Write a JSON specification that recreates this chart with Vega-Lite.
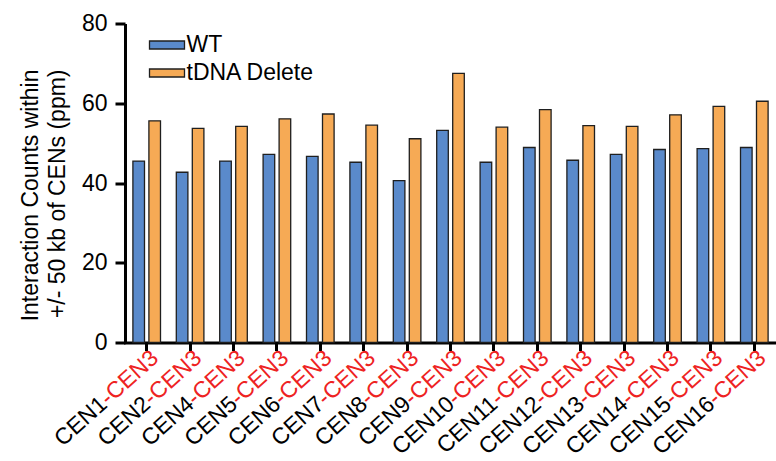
{
  "$schema": "https://vega.github.io/schema/vega-lite/v6.json",
  "autosize": {"type": "none"},
  "width": 651,
  "height": 319,
  "padding": {"left": 125, "top": 23.5, "right": 0, "bottom": 118.5},
  "background": "white",
  "config": {
    "font": "Liberation Sans",
    "view": {"stroke": null},
    "axis": {
      "domainColor": "black",
      "domainWidth": 3,
      "tickColor": "black",
      "tickWidth": 3,
      "labelColor": "black",
      "titleColor": "black",
      "labelFont": "Liberation Sans",
      "titleFont": "Liberation Sans",
      "grid": false
    },
    "legend": {
      "labelFont": "Liberation Sans",
      "labelFontSize": 23,
      "labelColor": "black",
      "symbolStrokeColor": "#1f1f1f",
      "symbolStrokeWidth": 1.3,
      "padding": 0
    }
  },
  "datasets": {
    "counts": [
      {"cen": "CEN1", "strain": "WT", "ppm": 45.5},
      {"cen": "CEN1", "strain": "tDNA Delete", "ppm": 55.6},
      {"cen": "CEN2", "strain": "WT", "ppm": 42.7},
      {"cen": "CEN2", "strain": "tDNA Delete", "ppm": 53.7},
      {"cen": "CEN4", "strain": "WT", "ppm": 45.5},
      {"cen": "CEN4", "strain": "tDNA Delete", "ppm": 54.2},
      {"cen": "CEN5", "strain": "WT", "ppm": 47.2},
      {"cen": "CEN5", "strain": "tDNA Delete", "ppm": 56.1},
      {"cen": "CEN6", "strain": "WT", "ppm": 46.7},
      {"cen": "CEN6", "strain": "tDNA Delete", "ppm": 57.3},
      {"cen": "CEN7", "strain": "WT", "ppm": 45.2},
      {"cen": "CEN7", "strain": "tDNA Delete", "ppm": 54.5},
      {"cen": "CEN8", "strain": "WT", "ppm": 40.6},
      {"cen": "CEN8", "strain": "tDNA Delete", "ppm": 51.1},
      {"cen": "CEN9", "strain": "WT", "ppm": 53.2},
      {"cen": "CEN9", "strain": "tDNA Delete", "ppm": 67.5},
      {"cen": "CEN10", "strain": "WT", "ppm": 45.2},
      {"cen": "CEN10", "strain": "tDNA Delete", "ppm": 54.0},
      {"cen": "CEN11", "strain": "WT", "ppm": 48.9},
      {"cen": "CEN11", "strain": "tDNA Delete", "ppm": 58.4},
      {"cen": "CEN12", "strain": "WT", "ppm": 45.7},
      {"cen": "CEN12", "strain": "tDNA Delete", "ppm": 54.4},
      {"cen": "CEN13", "strain": "WT", "ppm": 47.2},
      {"cen": "CEN13", "strain": "tDNA Delete", "ppm": 54.2},
      {"cen": "CEN14", "strain": "WT", "ppm": 48.4},
      {"cen": "CEN14", "strain": "tDNA Delete", "ppm": 57.1},
      {"cen": "CEN15", "strain": "WT", "ppm": 48.6},
      {"cen": "CEN15", "strain": "tDNA Delete", "ppm": 59.2},
      {"cen": "CEN16", "strain": "WT", "ppm": 48.9},
      {"cen": "CEN16", "strain": "tDNA Delete", "ppm": 60.5}
    ],
    "pairs": [
      {"cen": "CEN1", "partner": "-CEN3"},
      {"cen": "CEN2", "partner": "-CEN3"},
      {"cen": "CEN4", "partner": "-CEN3"},
      {"cen": "CEN5", "partner": "-CEN3"},
      {"cen": "CEN6", "partner": "-CEN3"},
      {"cen": "CEN7", "partner": "-CEN3"},
      {"cen": "CEN8", "partner": "-CEN3"},
      {"cen": "CEN9", "partner": "-CEN3"},
      {"cen": "CEN10", "partner": "-CEN3"},
      {"cen": "CEN11", "partner": "-CEN3"},
      {"cen": "CEN12", "partner": "-CEN3"},
      {"cen": "CEN13", "partner": "-CEN3"},
      {"cen": "CEN14", "partner": "-CEN3"},
      {"cen": "CEN15", "partner": "-CEN3"},
      {"cen": "CEN16", "partner": "-CEN3"}
    ]
  },
  "encoding": {
    "x": {
      "field": "cen",
      "type": "nominal",
      "sort": null,
      "scale": {"paddingInner": 0.364, "paddingOuter": 0.182},
      "axis": {
        "title": null,
        "labels": false,
        "tickSize": 8,
        "domainCap": "square"
      }
    }
  },
  "layer": [
    {
      "data": {"name": "counts"},
      "mark": {"type": "bar", "stroke": "#1f1f1f", "strokeWidth": 1.3},
      "encoding": {
        "xOffset": {
          "field": "strain",
          "type": "nominal",
          "sort": ["WT", "tDNA Delete"],
          "scale": {"paddingInner": 0.275, "paddingOuter": 0}
        },
        "y": {
          "field": "ppm",
          "type": "quantitative",
          "scale": {"domain": [0, 80], "nice": false},
          "axis": {
            "values": [0, 20, 40, 60, 80],
            "tickSize": 10,
            "labelFontSize": 23,
            "labelPadding": 8,
            "title": ["Interaction Counts within", "+/- 50 kb of CENs (ppm)"],
            "titleFontSize": 23,
            "titleFontWeight": "normal",
            "titleLineHeight": 27,
            "titleAlign": "right",
            "titleY": 45.5,
            "titlePadding": 12
          }
        },
        "color": {
          "field": "strain",
          "type": "nominal",
          "scale": {"domain": ["WT", "tDNA Delete"], "range": ["#5A8ACB", "#F6AA55"]},
          "legend": {
            "title": null,
            "orient": "none",
            "legendX": 30.5,
            "legendY": 10,
            "symbolType": "M-1.75,-0.4H1.75V0.4H-1.75Z",
            "symbolSize": 400,
            "labelOffset": 8,
            "rowPadding": 4
          }
        }
      }
    },
    {
      "data": {"name": "pairs"},
      "mark": {
        "type": "text",
        "angle": -42,
        "align": "right",
        "baseline": "alphabetic",
        "dx": -2,
        "dy": 21.7,
        "fontSize": 23,
        "color": "#EE2222"
      },
      "encoding": {
        "y": {"datum": 0, "type": "quantitative"},
        "text": {"field": "partner"}
      }
    },
    {
      "data": {"name": "pairs"},
      "mark": {
        "type": "text",
        "angle": -42,
        "align": "right",
        "baseline": "alphabetic",
        "dx": -71,
        "dy": 21.7,
        "fontSize": 23,
        "color": "black"
      },
      "encoding": {
        "y": {"datum": 0, "type": "quantitative"},
        "text": {"field": "cen"}
      }
    }
  ]
}
